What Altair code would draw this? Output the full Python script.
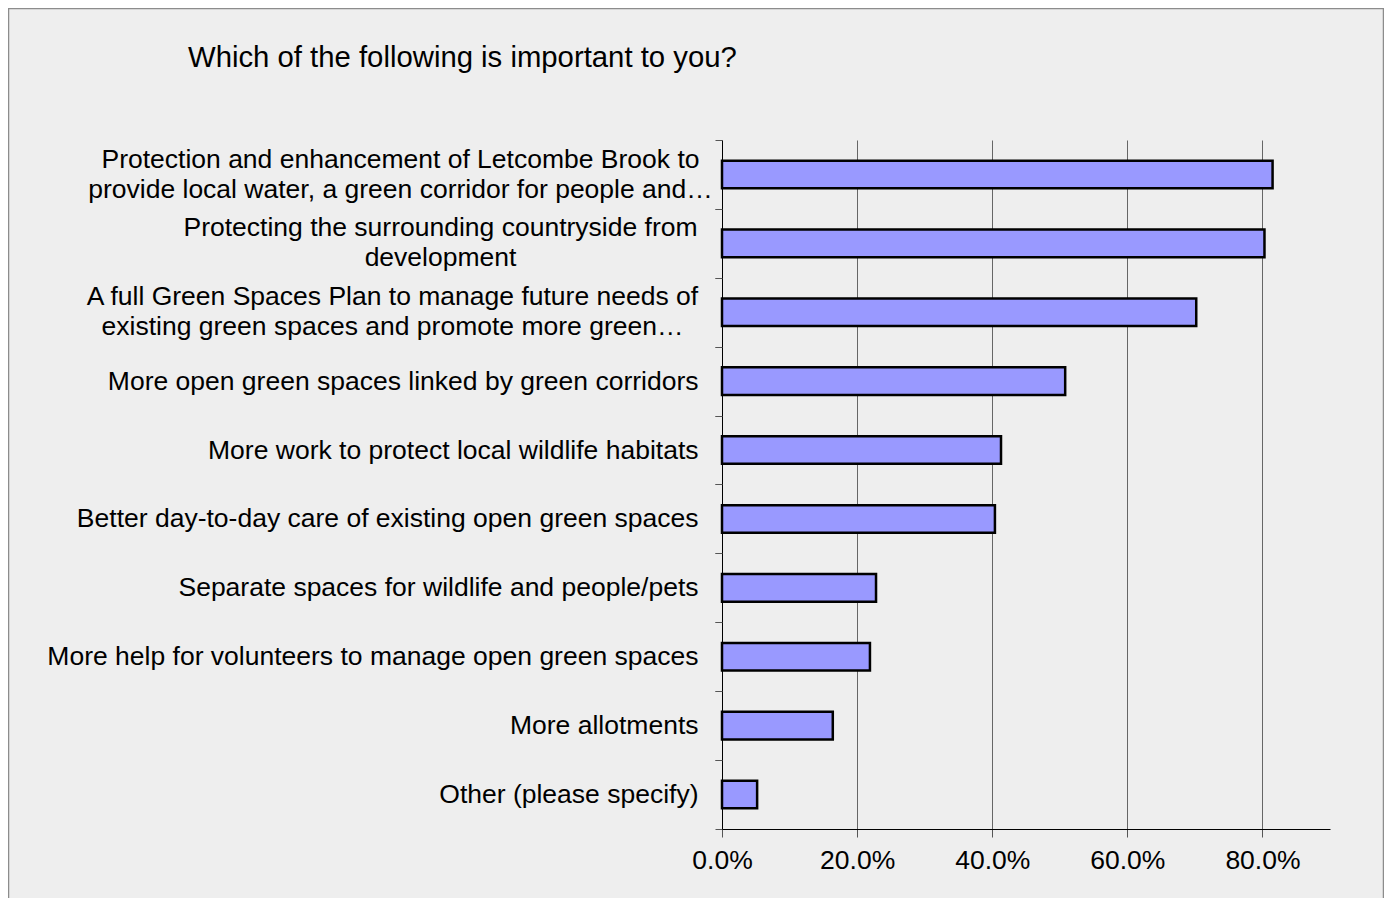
import altair as alt
import pandas as pd

title_text = "Which of the following is important to you?"

categories = [
    "Protection and enhancement of Letcombe Brook to\nprovide local water, a green corridor for people and…",
    "Protecting the surrounding countryside from\ndevelopment",
    "A full Green Spaces Plan to manage future needs of\nexisting green spaces and promote more green…",
    "More open green spaces linked by green corridors",
    "More work to protect local wildlife habitats",
    "Better day-to-day care of existing open green spaces",
    "Separate spaces for wildlife and people/pets",
    "More help for volunteers to manage open green spaces",
    "More allotments",
    "Other (please specify)",
]
values = [0.815, 0.803, 0.702, 0.508, 0.413, 0.404, 0.228, 0.219, 0.164, 0.052]
tick_values = [0.0, 0.2, 0.4, 0.6, 0.8]

df = pd.DataFrame({"cat": categories, "val": values})

FONT = "Liberation Sans"
LABEL_SIZE = 26.5
STEP = 68.9
TICK_COLOR = "#555555"

y_scale = alt.Scale(paddingInner=0.6, paddingOuter=0.3)
x_scale = alt.Scale(domain=[0, 0.9], nice=False)

bars = alt.Chart(df).mark_bar(fill="#9999FF", stroke="#000000", strokeWidth=2.5).encode(
    y=alt.Y(
        "cat:N",
        sort=None,
        scale=y_scale,
        axis=alt.Axis(
            orient="left",
            title=None,
            labelExpr="indexof(datum.value, '\\n') >= 0 ? '' : datum.label",
            labelFont=FONT,
            labelFontSize=LABEL_SIZE,
            labelColor="#000000",
            labelLimit=2000,
            labelPadding=17,
            labelAlign="right",
            tickOffset=STEP / 2,
            labelOffset=-STEP / 2,
            tickSize=7,
            tickColor=TICK_COLOR,
            domainColor="#000000",
            grid=False,
        ),
    ),
    x=alt.X(
        "val:Q",
        scale=x_scale,
        axis=alt.Axis(
            title=None,
            values=tick_values,
            format=".1%",
            labelFont=FONT,
            labelFontSize=LABEL_SIZE,
            labelColor="#000000",
            labelPadding=10,
            labelFlush=False,
            tickSize=8,
            tickColor=TICK_COLOR,
            domainColor="#000000",
            grid=True,
            gridColor="#666666",
        ),
    ),
)


def wrapped_label_layer(keyword, padding, top_ticks=False):
    extra = {}
    if top_ticks:
        extra = dict(ticks=True, tickSize=7, tickColor=TICK_COLOR,
                     tickOffset=-STEP / 2, labelOffset=STEP / 2 - 15)
        padding = padding - 7
    else:
        extra = dict(ticks=False, labelOffset=-15)
    return alt.Chart(df).mark_point(opacity=0).encode(
        y=alt.Y(
            "cat:N",
            sort=None,
            scale=y_scale,
            axis=alt.Axis(
                orient="left",
                title=None,
                labelExpr=f"indexof(datum.value, '{keyword}') >= 0 ? split(datum.label, '\\n') : ''",
                labelFont=FONT,
                labelFontSize=LABEL_SIZE,
                labelColor="#000000",
                labelLineHeight=30,
                labelLimit=2000,
                labelPadding=padding,
                labelAlign="center",
                domain=False,
                grid=False,
                **extra,
            ),
        ),
    )


frame = alt.Chart(pd.DataFrame({"k": [0]})).mark_rect(
    fillOpacity=0, stroke="#8c8c8c", strokeWidth=1.5
).encode(
    x=alt.value(-713.5), x2=alt.value(661.5), y=alt.value(-131.5), y2=alt.value(790)
)

chart = alt.layer(
    frame,
    bars,
    wrapped_label_layer("Letcombe", 322, top_ticks=True),
    wrapped_label_layer("countryside", 282),
    wrapped_label_layer("Green Spaces Plan", 330),
).resolve_axis(y="independent").properties(
    width=608,
    height=689,
    padding={"left": 714, "top": 132, "right": 54, "bottom": 69},
    autosize=alt.AutoSizeParams(type="none"),
    title=alt.TitleParams(
        text=title_text,
        anchor="start",
        frame="group",
        dx=-534,
        offset=0,
        dy=66,
        font=FONT,
        fontSize=29.3,
        fontWeight="normal",
        color="#000000",
    ),
).configure(background="#EEEEEE").configure_view(stroke="transparent")

chart.save("out.html", embed_options={"renderer": "svg", "actions": False})
